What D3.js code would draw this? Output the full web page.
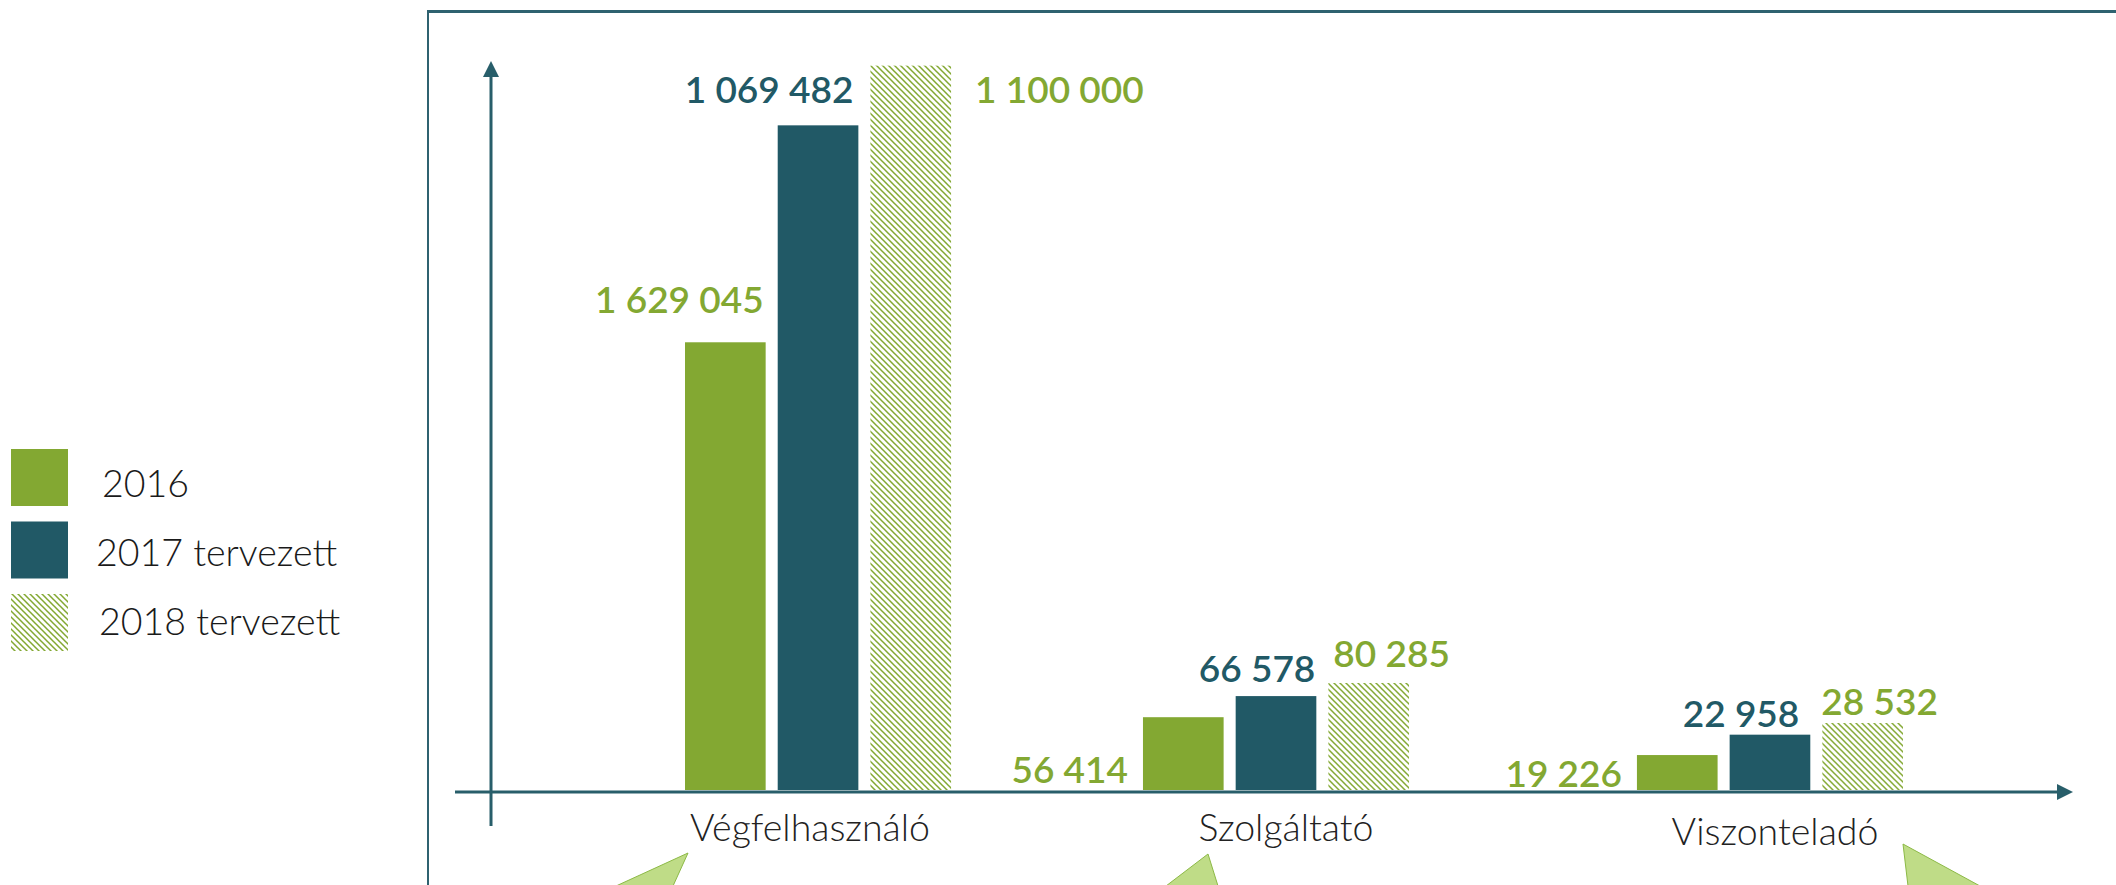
<!DOCTYPE html>
<html><head><meta charset="utf-8">
<script src="https://cdn.jsdelivr.net/npm/d3@7"></script>
<style>html,body{margin:0;padding:0;background:#fff;} svg{display:block}</style>
</head><body><svg id="chart" width="2116" height="885"></svg>
<script>
// ---- data ----
const categories = ["Végfelhasználó", "Szolgáltató", "Viszonteladó"];
const seriesNames = ["2016", "2017 tervezett", "2018 tervezett"];
const values2016 = [1629045, 56414, 19226];
const values2017 = [1069482, 66578, 22958];
const values2018 = [1100000, 80285, 28532];
// bar heights as drawn in the picture (the original is not to scale), in % of the y-axis length
const drawn2016 = [61.5, 10.0, 4.8];
const drawn2017 = [91.3, 12.9, 7.6];
const drawn2018 = [99.5, 14.7, 9.2];

// ---- styles ----
const GREEN = "#83a832", TEAL = "#215966", AXIS = "#285e6a";
const seriesFill = ["fill", "fill", "hatch"];
const seriesColor = [GREEN, TEAL, GREEN];
const labelColor = [GREEN, TEAL, GREEN];

const fmt = d3.formatLocale({decimal: ",", thousands: " ", grouping: [3], currency: ["", ""]}).format(",d");

const series = [
  {name: seriesNames[0], values: values2016, drawn: drawn2016},
  {name: seriesNames[1], values: values2017, drawn: drawn2017},
  {name: seriesNames[2], values: values2018, drawn: drawn2018}
];

const svg = d3.select("#chart");
const defs = svg.append("defs");
const pat = defs.append("pattern").attr("id", "hatch")
  .attr("patternUnits", "userSpaceOnUse").attr("width", 6).attr("height", 6);
pat.append("rect").attr("width", 6).attr("height", 6).attr("fill", "#fff");
pat.append("path").attr("d", "M-1,-1 L7,7 M-1,5 L1,7 M5,-1 L7,1")
  .attr("stroke", GREEN).attr("stroke-width", 1.5);

// ---- frame ----
svg.append("rect").attr("x", 427).attr("y", 10).attr("width", 1689).attr("height", 3).attr("fill", "#2f6270");
svg.append("rect").attr("x", 427).attr("y", 10).attr("width", 2).attr("height", 875).attr("fill", "#2f6270");

// ---- scales ----
const groupNudge = [0, -18, 0];
const x0 = d3.scaleBand().domain(categories).range([685, 1903]).paddingInner(0.441).paddingOuter(0);
const x1 = d3.scaleBand().domain(seriesNames).range([0, x0.bandwidth()]).paddingInner(0.13).paddingOuter(0);
const y = d3.scaleLinear().domain([0, 100]).range([790, 62]);

// ---- axes (arrows) ----
const yAxisX = 491, xAxisY = y(0) + 2;
svg.append("line").attr("x1", yAxisX).attr("x2", yAxisX).attr("y1", 826).attr("y2", y(100) + 12)
  .attr("stroke", AXIS).attr("stroke-width", 3);
svg.append("path").attr("d", `M${yAxisX},${y(100) - 1} L${yAxisX - 8},${y(100) + 15} L${yAxisX + 8},${y(100) + 15} Z`).attr("fill", AXIS);
const xEnd = 2073;
svg.append("line").attr("x1", 455).attr("x2", xEnd - 12).attr("y1", xAxisY).attr("y2", xAxisY)
  .attr("stroke", AXIS).attr("stroke-width", 3);
svg.append("path").attr("d", `M${xEnd},${xAxisY} L${xEnd - 16},${xAxisY - 8} L${xEnd - 16},${xAxisY + 8} Z`).attr("fill", AXIS);

// category axis
const tickNudge = [[0, 0], [0, 0], [13, 4]];
const xAxis = d3.axisBottom(x0).tickSize(0).tickPadding(22);
const gx = svg.append("g").attr("transform", `translate(-8,${xAxisY})`).call(xAxis);
gx.select(".domain").remove();
gx.selectAll("text").attr("font-family", "Lato, 'Open Sans', sans-serif").attr("font-weight", 300)
  .attr("font-size", 37.5).attr("fill", "#222")
  .attr("transform", (d, i) => `translate(${tickNudge[i][0]},${tickNudge[i][1]})`);

// ---- bars ----
const groups = svg.append("g").selectAll("g").data(categories).join("g")
  .attr("transform", (d, i) => `translate(${x0(d) + groupNudge[i]},0)`);

series.forEach((s, si) => {
  groups.append("rect")
    .attr("x", x1(s.name)).attr("width", x1.bandwidth())
    .attr("y", (d, i) => y(s.drawn[i]))
    .attr("height", (d, i) => y(0) - y(s.drawn[i]))
    .attr("fill", seriesFill[si] === "hatch" ? "url(#hatch)" : seriesColor[si]);
});

// ---- value labels ----
const labelPlace = [
  [{a: "end", ref: "right", dx: -2, top: true, dy: -29}, {a: "end", ref: "left", dx: -15, top: false, dy: -7}, {a: "end", ref: "left", dx: -15, top: false, dy: -3}],
  [{a: "end", ref: "right", dx: -5, top: true, dy: -22}, {a: "end", ref: "right", dx: -1, top: true, dy: -14}, {a: "end", ref: "right", dx: -11, top: true, dy: -8}],
  [{a: "start", ref: "right", dx: 24, top: true, dy: 37}, {a: "start", ref: "left", dx: 5, top: true, dy: -16}, {a: "start", ref: "left", dx: -1, top: true, dy: -8}]
];
series.forEach((s, si) => {
  groups.append("text")
    .attr("x", (d, i) => {
      const p = labelPlace[si][i];
      const base = x1(s.name) + (p.ref === "right" ? x1.bandwidth() : 0);
      return base + p.dx;
    })
    .attr("y", (d, i) => {
      const p = labelPlace[si][i];
      return (p.top ? y(s.drawn[i]) : y(0)) + p.dy;
    })
    .attr("text-anchor", (d, i) => labelPlace[si][i].a)
    .attr("font-family", "Lato, 'Open Sans', sans-serif").attr("font-weight", 600)
    .attr("font-size", 37).attr("fill", labelColor[si])
    .text((d, i) => fmt(s.values[i]));
});

// ---- legend ----
const lg = svg.append("g").selectAll("g").data(seriesNames).join("g");
lg.append("rect").attr("x", 11).attr("y", (d, i) => 449 + i * 72.5).attr("width", 57).attr("height", 57)
  .attr("fill", (d, i) => seriesFill[i] === "hatch" ? "url(#hatch)" : seriesColor[i]);
lg.append("text").attr("x", (d, i) => [102, 96, 99][i]).attr("y", (d, i) => 497 + i * 69)
  .attr("font-family", "Lato, 'Open Sans', sans-serif").attr("font-weight", 300)
  .attr("font-size", 37.5).attr("fill", "#1a1a1a").text(d => d);

// ---- callout tails at the bottom edge ----
const tails = [
  [[688, 853], [616, 886], [673, 886]],
  [[1208, 854], [1166, 886], [1218, 886]],
  [[1903, 844], [1908, 886], [1980, 886]]
];
svg.append("g").selectAll("path").data(tails).join("path")
  .attr("d", d => "M" + d.map(p => p.join(",")).join("L") + "Z")
  .attr("fill", "#bfdc87").attr("stroke", "#8cb946").attr("stroke-width", 1);
</script></body></html>
